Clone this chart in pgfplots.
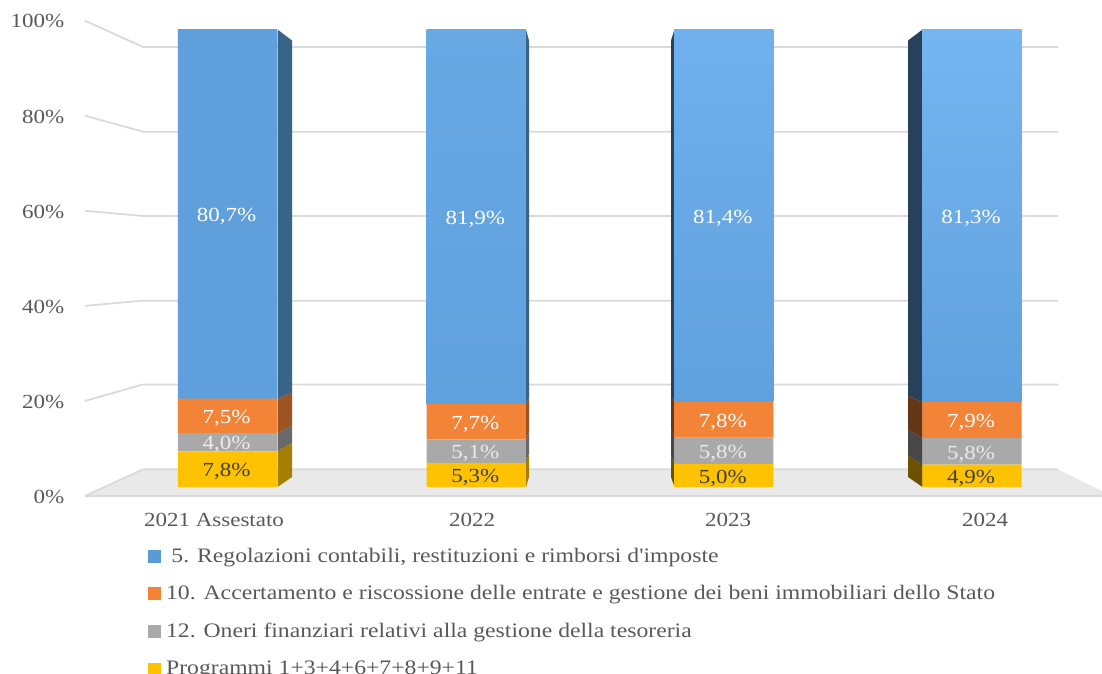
\documentclass[border=0pt]{standalone}
\usepackage{pgfplots}
\pgfplotsset{compat=1.18}
\usepackage{fontspec}
\setmainfont[FakeStretch=1.15]{Liberation Serif}
% no TeX ligatures here, so that the apostrophe stays straight
\newfontfamily\legenda[FakeStretch=1.15]{Liberation Serif}

\definecolor{txt}{HTML}{595959}
\definecolor{griglia}{HTML}{D9D9D9}
\definecolor{pavimento}{HTML}{E9E9E9}
\definecolor{giallo}{HTML}{FFC200}
\definecolor{grigio}{HTML}{A9A9A9}
\definecolor{arancio}{HTML}{F38336}
\definecolor{azzurro}{HTML}{5B9BD5}
\definecolor{bluA}{HTML}{5F9FDC}
\definecolor{bluB}{HTML}{68A9E4}
\definecolor{bluC}{HTML}{70B0EC}
\definecolor{bluD}{HTML}{75B5F0}
\definecolor{bluBase}{HTML}{5FA1DE}

% 1 px = 0.75 pt: picture 826.5 x 505.5 pt
\pgfplotsset{
    base/.style={
        scale only axis,
        width=762.75pt,
        xmin=85, xmax=1102,
        clip=false,
    },
    barre/.style={
        base,
        height=343.1pt,
        at={(0pt,6.75pt)},
        ymin=0, ymax=100,
        hide axis,
    },
}

% colour, front x, back x, low front, high front, low back, high back
\newcommand{\faccia}[7]{
    \addplot[fill=#1, draw=none] coordinates {(#2,#4) (#2,#5) (#3,#7) (#3,#6)} --cycle;
}
\newcommand{\legimg}[1]{\addlegendimage{legend image code/.code={\fill[#1] (0pt,-4.5pt) rectangle (9pt,4.5pt);}}}

\begin{document}
\begin{tikzpicture}
\path[use as bounding box, clip] (-63.75pt,-133.5pt) rectangle (762.75pt,372pt);

% walls, floor and tick labels
\begin{axis}[
    base,
    height=356.5pt,
    ymin=0, ymax=100,
    axis line style={draw=none},
    major tick length=0pt,
    xtick={214,472,728,985},
    xticklabels={2021 Assestato,2022,2023,2024},
    ytick={0,20,40,60,80,100},
    yticklabels={0\%,20\%,40\%,60\%,80\%,100\%},
    tick label style={font=\fontsize{15}{18}\selectfont, text=txt},
    yticklabel style={xshift=-12pt, yshift=-0.6pt},
    xticklabel style={yshift=-9pt},
]
    \addplot[fill=pavimento, draw=none] coordinates {(85,0) (143,5.62) (1058,5.62) (1102,1) (1102,0)} --cycle;
    \addplot[griglia, line width=1.3pt] coordinates {(85,0) (143,5.62) (1058,5.62)};
    \addplot[griglia, line width=1.3pt] coordinates {(85,20) (143,23.46) (1058,23.46)};
    \addplot[griglia, line width=1.3pt] coordinates {(85,40) (143,41.1) (1058,41.1)};
    \addplot[griglia, line width=1.3pt] coordinates {(85,60) (143,58.9) (1058,58.9)};
    \addplot[griglia, line width=1.3pt] coordinates {(85,80) (143,76.65) (1058,76.65)};
    \addplot[griglia, line width=1.3pt] coordinates {(85,100) (143,94.47) (1058,94.47)};
    \addplot[griglia, line width=1.3pt] coordinates {(85,0) (1102,0)};
\end{axis}

% side faces of the columns
\begin{axis}[barre]
    \faccia{black!35!giallo}{277.5}{292}{0}{7.8}{2.18}{9.62}
    \faccia{black!38!grigio}{277.5}{292}{7.8}{11.8}{9.62}{13.44}
    \faccia{black!36!arancio}{277.5}{292}{11.8}{19.3}{13.44}{20.6}
    \faccia{black!36!azzurro}{277.5}{292}{19.3}{100}{20.6}{97.6}

    \faccia{black!35!giallo}{526}{529}{0}{5.3}{2.18}{7.24}
    \faccia{black!38!grigio}{526}{529}{5.3}{10.4}{7.24}{12.1}
    \faccia{black!36!arancio}{526}{529}{10.4}{18.1}{12.1}{19.45}
    \faccia{black!36!azzurro}{526}{529}{18.1}{100}{19.45}{97.6}

    \faccia{black!58!giallo}{674.5}{671}{0}{5}{2.18}{6.95}
    \faccia{black!58!grigio}{674.5}{671}{5}{10.8}{6.95}{12.49}
    \faccia{black!58!arancio}{674.5}{671}{10.8}{18.6}{12.49}{19.93}
    \faccia{black!58!azzurro}{674.5}{671}{18.6}{100}{19.93}{97.6}

    \faccia{black!58!giallo}{922.5}{908}{0}{4.9}{2.18}{6.86}
    \faccia{black!58!grigio}{922.5}{908}{4.9}{10.7}{6.86}{12.39}
    \faccia{black!58!arancio}{922.5}{908}{10.7}{18.6}{12.39}{19.93}
    \faccia{black!58!azzurro}{922.5}{908}{18.6}{100}{19.93}{97.6}
\end{axis}

% front faces
\begin{axis}[
    barre,
    ybar stacked,
    bar width=74.4pt,
    point meta=explicit symbolic,
    nodes near coords,
    every node near coord/.append style={font=\fontsize{15}{18}\selectfont, anchor=center, xshift=-0.75pt, yshift=-2pt},
    legend style={
        at={(44.25pt,-43.5pt)}, anchor=north west,
        draw=none, fill=none,
        font=\legenda\fontsize{15.45}{18}\selectfont\color{txt},
        row sep=16pt,
        column sep=4pt,
        cells={anchor=west},
        /tikz/every node/.append style={inner sep=0pt},
    },
]
    \legimg{azzurro}
    \addlegendentry{\hspace{4pt}5. Regolazioni contabili, restituzioni e rimborsi d'imposte}
    \legimg{arancio}
    \addlegendentry{10. Accertamento e riscossione delle entrate e gestione dei beni immobiliari dello Stato}
    \legimg{grigio}
    \addlegendentry{12. Oneri finanziari relativi alla gestione della tesoreria}
    \legimg{giallo}
    \addlegendentry{Programmi 1+3+4+6+7+8+9+11}

    \addplot[forget plot, fill=giallo, draw=none, nodes near coords style={text=black!75}] coordinates {
        (227.5,7.8)[7,8\%] (476.2,5.3)[5,3\%] (723.8,5)[5,0\%] (972,4.9)[4,9\%]};
    \addplot[forget plot, fill=grigio, draw=none, nodes near coords style={text=white!92!black}] coordinates {
        (227.5,4)[4,0\%] (476.2,5.1)[5,1\%] (723.8,5.8)[5,8\%] (972,5.8)[5,8\%]};
    \addplot[forget plot, fill=arancio, draw=none, nodes near coords style={text=white}] coordinates {
        (227.5,7.5)[7,5\%] (476.2,7.7)[7,7\%] (723.8,7.8)[7,8\%] (972,7.9)[7,9\%]};
    % blue runs brighter from bar to bar, so one series for each
    \addplot[forget plot, draw=none, top color=bluA, bottom color=bluA, nodes near coords style={text=white}] coordinates {
        (227.5,80.7)[80,7\%] (476.2,0)[] (723.8,0)[] (972,0)[]};
    \addplot[forget plot, draw=none, top color=bluB, bottom color=bluBase, nodes near coords style={text=white}] coordinates {
        (227.5,0)[] (476.2,81.9)[81,9\%] (723.8,0)[] (972,0)[]};
    \addplot[forget plot, draw=none, top color=bluC, bottom color=bluBase, nodes near coords style={text=white}] coordinates {
        (227.5,0)[] (476.2,0)[] (723.8,81.4)[81,4\%] (972,0)[]};
    \addplot[forget plot, draw=none, top color=bluD, bottom color=bluBase, nodes near coords style={text=white}] coordinates {
        (227.5,0)[] (476.2,0)[] (723.8,0)[] (972,81.3)[81,3\%]};
\end{axis}
\end{tikzpicture}
\end{document}
